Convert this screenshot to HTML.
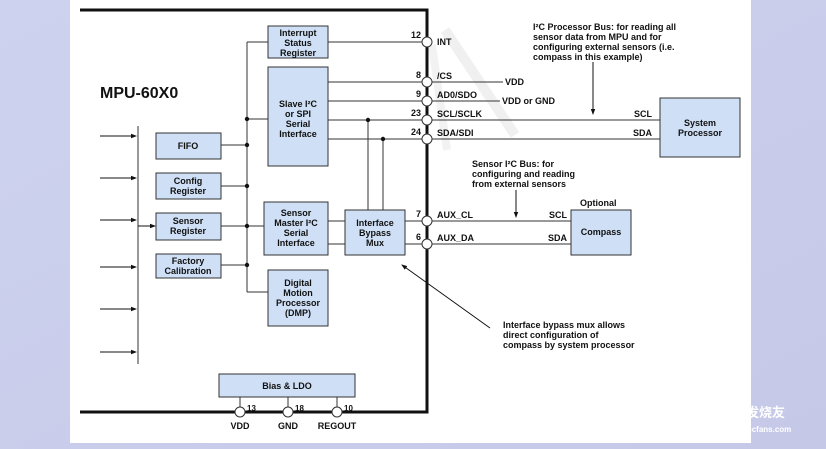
<!DOCTYPE html>
<html><head><meta charset="utf-8"><style>
html,body{margin:0;padding:0;}
body{width:826px;height:449px;background:#c9cdea;overflow:hidden;}
svg{display:block;}
text{font-family:"Liberation Sans",Arial,sans-serif;font-weight:bold;font-size:9px;fill:#111;}
</style></head><body>
<svg width="826" height="449" viewBox="0 0 826 449" xmlns="http://www.w3.org/2000/svg">
<defs>
<marker id="ah" markerWidth="6" markerHeight="6" refX="5" refY="3" orient="auto" markerUnits="userSpaceOnUse"><path d="M0,0.8 L6,3 L0,5.2z" fill="#111"/></marker>
<linearGradient id="bg" x1="0" y1="0" x2="1" y2="1"><stop offset="0" stop-color="#cdd3ee"/><stop offset="1" stop-color="#c6c8e8"/></linearGradient>
</defs>
<rect width="826" height="449" fill="url(#bg)"/>
<rect x="70" y="0" width="681" height="443" fill="#fff"/>
<!-- watermark -->
<path d="M445,30 L515,135" stroke="#f0f0f0" stroke-width="10"/>
<path d="M432,45 L447,150" stroke="#f2f2f2" stroke-width="8"/>
<!-- chip border -->
<path d="M80,10 L427,10 L427,412 L80,412" fill="none" stroke="#111" stroke-width="3"/>
<text x="100" y="98" style="font-size:16px">MPU-60X0</text>
<g fill="#cfe0f6" stroke="#333" stroke-width="1">
<rect x="268" y="26" width="60" height="32"/>
<rect x="268" y="67" width="60" height="99"/>
<rect x="156" y="133" width="65" height="26"/>
<rect x="156" y="173" width="65" height="26"/>
<rect x="156" y="213" width="65" height="27"/>
<rect x="156" y="254" width="65" height="24"/>
<rect x="264" y="202" width="64" height="53"/>
<rect x="268" y="270" width="60" height="56"/>
<rect x="345" y="210" width="60" height="45"/>
<rect x="219" y="374" width="136" height="23"/>
<rect x="660" y="98" width="80" height="59"/>
<rect x="571" y="210" width="60" height="45"/>
</g>
<g stroke="#333" stroke-width="1" fill="none">
<path d="M247,42 L247,292 M247,42 L268,42 M247,292 L268,292 M247,119 L268,119 M221,145 L247,145 M221,186 L247,186 M221,226 L264,226 M221,265 L247,265"/>
<path d="M138,126 L138,364"/>
<path d="M328,42 L422,42 M328,82 L422,82 M328,101 L422,101 M328,120 L422,120 M328,139 L422,139"/>
<path d="M432,82 L503,82 M432,101 L500,101 M432,120 L660,120 M432,139 L660,139"/>
<path d="M368,120 L368,210 M383,139 L383,210"/>
<path d="M328,221 L345,221 M328,244 L345,244 M405,221 L422,221 M405,244 L422,244 M432,221 L571,221 M432,244 L571,244"/>
<path d="M240,397 L240,407 M288,397 L288,407 M337,397 L337,407"/>
</g>
<g stroke="#111" stroke-width="1" marker-end="url(#ah)">
<line x1="100" y1="136" x2="136" y2="136"/><line x1="100" y1="178" x2="136" y2="178"/><line x1="100" y1="220" x2="136" y2="220"/>
<line x1="100" y1="267" x2="136" y2="267"/><line x1="100" y1="309" x2="136" y2="309"/><line x1="100" y1="352" x2="136" y2="352"/>
<line x1="138" y1="226" x2="155" y2="226"/>
<line x1="593" y1="62" x2="593" y2="114"/>
<line x1="516" y1="190" x2="516" y2="217"/>
<line x1="490" y1="328" x2="402" y2="265"/>
</g>
<g fill="#111">
<circle cx="247" cy="119" r="2.2"/><circle cx="247" cy="145" r="2.2"/><circle cx="247" cy="186" r="2.2"/><circle cx="247" cy="226" r="2.2"/><circle cx="247" cy="265" r="2.2"/>
<circle cx="368" cy="120" r="2.2"/><circle cx="383" cy="139" r="2.2"/>
</g>
<g fill="#fff" stroke="#333" stroke-width="1">
<circle cx="427" cy="42" r="5"/><circle cx="427" cy="82" r="5"/><circle cx="427" cy="101" r="5"/><circle cx="427" cy="120" r="5"/><circle cx="427" cy="139" r="5"/><circle cx="427" cy="221" r="5"/><circle cx="427" cy="244" r="5"/>
<circle cx="240" cy="412" r="5"/><circle cx="288" cy="412" r="5"/><circle cx="337" cy="412" r="5"/>
</g>
<g text-anchor="middle">
<text x="298" y="36">Interrupt</text><text x="298" y="46">Status</text><text x="298" y="56">Register</text>
<text x="298" y="107">Slave I²C</text><text x="298" y="117">or SPI</text><text x="298" y="127">Serial</text><text x="298" y="137">Interface</text>
<text x="188" y="149">FIFO</text>
<text x="188" y="184">Config</text><text x="188" y="194">Register</text>
<text x="188" y="224">Sensor</text><text x="188" y="234">Register</text>
<text x="188" y="264">Factory</text><text x="188" y="274">Calibration</text>
<text x="296" y="216">Sensor</text><text x="296" y="226">Master I²C</text><text x="296" y="236">Serial</text><text x="296" y="246">Interface</text>
<text x="298" y="286">Digital</text><text x="298" y="296">Motion</text><text x="298" y="306">Processor</text><text x="298" y="316">(DMP)</text>
<text x="375" y="226">Interface</text><text x="375" y="236">Bypass</text><text x="375" y="246">Mux</text>
<text x="287" y="389">Bias &amp; LDO</text>
<text x="700" y="126">System</text><text x="700" y="136">Processor</text>
<text x="601" y="235">Compass</text>
<text x="240" y="429">VDD</text><text x="288" y="429">GND</text><text x="337" y="429">REGOUT</text>
</g>
<g text-anchor="end">
<text x="421" y="38">12</text><text x="421" y="78">8</text><text x="421" y="97">9</text><text x="421" y="116">23</text><text x="421" y="135">24</text><text x="421" y="217">7</text><text x="421" y="240">6</text>
<text x="652" y="117">SCL</text><text x="652" y="136">SDA</text><text x="567" y="218">SCL</text><text x="567" y="241">SDA</text>
</g>
<text x="437" y="45">INT</text><text x="437" y="79">/CS</text><text x="437" y="98">AD0/SDO</text><text x="437" y="117">SCL/SCLK</text><text x="437" y="136">SDA/SDI</text>
<text x="437" y="218">AUX_CL</text><text x="437" y="241">AUX_DA</text>
<text x="505" y="85">VDD</text><text x="502" y="104">VDD or GND</text>
<text x="580" y="206">Optional</text>
<text x="247" y="411" style="font-size:8px">13</text><text x="295" y="411" style="font-size:8px">18</text><text x="344" y="411" style="font-size:8px">10</text>
<g style="font-size:8.5px">
<text x="533" y="30">I²C Processor Bus: for reading all</text>
<text x="533" y="40">sensor data from MPU and for</text>
<text x="533" y="50">configuring external sensors (i.e.</text>
<text x="533" y="60">compass in this example)</text>
<text x="472" y="167">Sensor I²C Bus: for</text>
<text x="472" y="177">configuring and reading</text>
<text x="472" y="187">from external sensors</text>
<text x="503" y="328">Interface bypass mux allows</text>
<text x="503" y="338">direct configuration of</text>
<text x="503" y="348">compass by system processor</text>
</g>
<circle cx="705" cy="418" r="12" fill="none" stroke="#fff" stroke-width="2"/>
<text x="720" y="417" style="font-size:13px;fill:#fff;font-family:'Noto Sans CJK SC',sans-serif">电子发烧友</text>
<text x="720" y="432" style="font-size:8px;fill:#fff">www.elecfans.com</text>
</svg>
</body></html>
